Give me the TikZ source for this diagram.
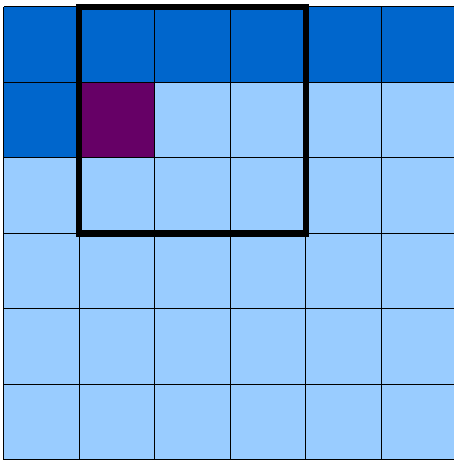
\documentclass[tikz,border=0pt]{standalone}
\usepackage{tikz}
\definecolor{darkcell}{HTML}{0066CC}
\definecolor{lightcell}{HTML}{99CCFF}
\definecolor{purplecell}{HTML}{660066}

\begin{document}
\begin{tikzpicture}
    \useasboundingbox (-0.05,0) rectangle (5.95,6.09);
    \fill[lightcell] (0,0) rectangle (6,6);
    \fill[darkcell] (0,5) rectangle (6,6);
    \fill[darkcell] (0,4) rectangle (1,5);
    \fill[purplecell] (1,4) rectangle (2,5);
    \draw[line width=0.4pt] (0,0) grid (6,6);
    \draw[line width=2.4pt] (1,3) rectangle (4,6);
\end{tikzpicture}
\end{document}
